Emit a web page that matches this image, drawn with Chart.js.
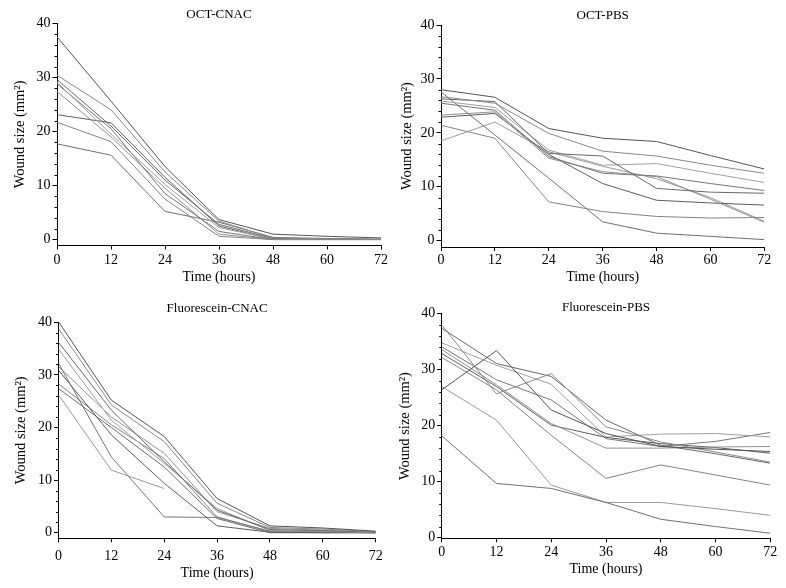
<!DOCTYPE html>
<html>
<head>
<meta charset="utf-8">
<script src="https://cdn.jsdelivr.net/npm/chart.js@4"></script>
<style>
  body { margin: 0; background: #fff; }
  #wrap { position: relative; width: 786px; height: 588px; }
  #wrap canvas { position: absolute; }
</style>
</head>
<body>
<div id="wrap">
  <canvas id="c1" width="393" height="294" style="left:0;top:0"></canvas>
  <canvas id="c2" width="393" height="294" style="left:393px;top:0"></canvas>
  <canvas id="c3" width="393" height="294" style="left:0;top:294px"></canvas>
  <canvas id="c4" width="393" height="294" style="left:393px;top:294px"></canvas>
</div>
<script>
// time points (hours) and tick values
const hours = [0, 12, 24, 36, 48, 60, 72];
const yTicks = [0, 10, 20, 30, 40];

// wound size (mm2) per animal, one row per line
const octCnac = [
    [37.5, 25.6, 13.5, 3.7, 1.0, 0.6, 0.3],
    [30.4, 24.0, 12.5, 3.4, 0.3, 0.1, 0],
    [29.6, 21.0, 11.0, 2.8, 0.2, 0.1, 0],
    [29.1, 19.5, 10.2, 2.2, 0.1, 0, 0],
    [28.8, 20.5, 8.5, 1.5, 0, 0, 0],
    [27.4, 19.0, 9.5, 1.0, 0, 0, 0],
    [23.1, 21.6, 11.5, 2.5, 0, 0, 0],
    [21.7, 18.1, 7.5, 0.6, 0, 0, 0],
    [17.7, 15.6, 5.2, 3.2, 0.4, 0.2, 0.1]
];

const octPbs = [
    [28.0, 26.6, 20.8, 19.0, 18.4, 15.8, 13.3],
    [26.7, 25.5, 19.9, 16.6, 15.7, 14.0, 12.5],
    [26.3, 25.8, 16.2, 15.7, 9.7, 9.0, 8.8],
    [25.9, 24.7, 16.8, 14.0, 14.3, 12.5, 10.8],
    [25.5, 24.2, 15.6, 12.5, 12.0, 10.6, 9.3],
    [23.3, 23.9, 15.3, 12.8, 11.9, 7.7, 3.4],
    [22.9, 23.6, 16.0, 10.6, 7.5, 7.0, 6.6],
    [21.4, 19.0, 7.2, 5.4, 4.5, 4.2, 4.3],
    [27.6, 19.6, 11.6, 3.5, 1.4, 0.8, 0.2],
    [18.5, 22.0, 16.5, 13.8, 11.5, 8.0, 3.6]
];

const fluoCnac = [
    [40.1, 25.2, 18.3, 6.5, 1.3, 0.9, 0.3],
    [38.8, 24.3, 17.3, 5.6, 1.0, 0.7, 0.2],
    [36.2, 23.3, 13.5, 4.3, 0.6, 0.4, 0.1],
    [34.9, 21.4, 13.2, 4.6, 0.4, 0.3, 0],
    [32.2, 14.4, 3.0, 2.9, 0.3, 0.2, 0],
    [31.6, 22.0, 15.1, 4.0, 0.8, 0.5, 0.1],
    [30.9, 18.6, 9.4, 1.3, 0.1, 0, 0],
    [28.3, 20.5, 14.1, 3.0, 0.2, 0.1, 0],
    [27.4, 20.0, 12.5, 2.7, 0, 0, 0],
    [26.2, 11.9, 8.4, null, null, null, null]
];

const fluoPbs = [
    [26.4, 33.4, 22.8, 18.6, 16.3, 15.8, 15.4],
    [38.0, 25.7, 29.3, 19.8, 17.1, 15.3, 13.5],
    [37.4, 31.1, 28.8, 21.0, 16.5, 15.0, 13.3],
    [34.8, 30.8, 27.4, 18.0, 18.5, 18.6, 18.0],
    [34.1, 28.2, 24.6, 17.7, 16.3, 17.2, 18.8],
    [33.6, 27.3, 20.4, 16.0, 16.0, 16.2, 16.3],
    [32.9, 27.0, 20.1, 17.9, 16.8, 16.1, 15.1],
    [32.2, 26.4, 18.3, 10.6, 13.0, 11.2, 9.4],
    [18.2, 9.7, 8.8, 6.3, 3.3, 2.0, 0.8],
    [27.0, 21.0, 9.4, 6.3, 6.3, 5.2, 4.0]
];

const lineColors = ['#555555', '#8a8a8a', '#6a6a6a', '#a0a0a0', '#777777', '#929292', '#5e5e5e', '#858585', '#707070', '#9a9a9a'];
const serif = '"Liberation Serif", "Times New Roman", serif';

// small minor ticks on the y axis (every 2 units)
const minorTicks = {
    id: 'minorTicks',
    afterDraw(chart) {
        const y = chart.scales.y;
        const ctx = chart.ctx;
        ctx.save();
        ctx.strokeStyle = '#000';
        ctx.lineWidth = 1;
        for (let v = 2; v < 40; v += 2) {
            if (v % 10 === 0) continue;
            const py = Math.round(y.getPixelForValue(v)) + 0.5;
            ctx.beginPath();
            ctx.moveTo(y.right - 2.5, py);
            ctx.lineTo(y.right, py);
            ctx.stroke();
        }
        ctx.restore();
    }
};

function makeChart(id, title, rows, g) {
    const datasets = rows.map((row, i) => ({
        data: row.map((v, j) => ({ x: hours[j], y: v })),
        borderColor: lineColors[i % lineColors.length],
        borderWidth: 1,
        pointRadius: 0,
        tension: 0,
        spanGaps: false
    }));

    return new Chart(document.getElementById(id), {
        type: 'line',
        data: { datasets: datasets },
        plugins: [minorTicks],
        options: {
            responsive: false,
            animation: false,
            devicePixelRatio: 1,
            layout: { padding: { left: 0, right: g.padRight, top: 0, bottom: 0 } },
            plugins: {
                legend: { display: false },
                tooltip: { enabled: false },
                title: {
                    display: true,
                    text: title,
                    fullSize: false,
                    color: '#000',
                    font: { family: serif, size: 13, weight: 'normal', lineHeight: 1 },
                    padding: { top: g.titleTop, bottom: g.titleBottom }
                }
            },
            scales: {
                x: {
                    type: 'linear',
                    min: 0,
                    max: 72,
                    afterBuildTicks: s => { s.ticks = hours.map(v => ({ value: v })); },
                    afterFit: s => { s.height = g.xHeight; },
                    grid: { display: true, drawOnChartArea: false, drawTicks: true, tickLength: 4, color: '#000' },
                    border: { display: true, color: '#000', width: 1 },
                    ticks: { color: '#000', font: { family: serif, size: 14 }, padding: g.xTickPad, maxRotation: 0 },
                    title: {
                        display: true,
                        text: 'Time (hours)',
                        color: '#000',
                        font: { family: serif, size: 14 },
                        padding: { top: 0, bottom: g.xTitlePad }
                    }
                },
                y: {
                    min: g.yMin,
                    max: 40,
                    afterBuildTicks: s => { s.ticks = yTicks.map(v => ({ value: v })); },
                    afterFit: s => { s.width = g.yWidth; },
                    grid: { display: true, drawOnChartArea: false, drawTicks: true, tickLength: 4.5, color: '#000' },
                    border: { display: true, color: '#000', width: 1 },
                    ticks: { color: '#000', font: { family: serif, size: 14 }, padding: 2 },
                    title: {
                        display: true,
                        text: 'Wound size (mm²)',
                        color: '#000',
                        font: { family: serif, size: 14.5 },
                        padding: { top: g.yTitlePad, bottom: 0 }
                    }
                }
            }
        }
    });
}

makeChart('c1', 'OCT-CNAC', octCnac, {
    yWidth: 57, padRight: 12, titleTop: 8, titleBottom: 2.3, xHeight: 48.5,
    yMin: -1.1, yTitlePad: 11.4, xTitlePad: 8.6, xTickPad: 2.5
});
makeChart('c2', 'OCT-PBS', octPbs, {
    yWidth: 48, padRight: 21.7, titleTop: 9, titleBottom: 3, xHeight: 47,
    yMin: -1.17, yTitlePad: 5.1, xTitlePad: 7.9, xTickPad: 1.2
});
makeChart('c3', 'Fluorescein-CNAC', fluoCnac, {
    yWidth: 58.5, padRight: 17.3, titleTop: 8.5, titleBottom: 6.8, xHeight: 49.7,
    yMin: -1.06, yTitlePad: 12.4, xTitlePad: 6.3, xTickPad: 5.5
});
makeChart('c4', 'Fluorescein-PBS', fluoPbs, {
    yWidth: 48.7, padRight: 15.7, titleTop: 7, titleBottom: -0.3, xHeight: 49.7,
    yMin: -0.1, yTitlePad: 3.4, xTitlePad: 10.6, xTickPad: 1.2
});
</script>
</body>
</html>
